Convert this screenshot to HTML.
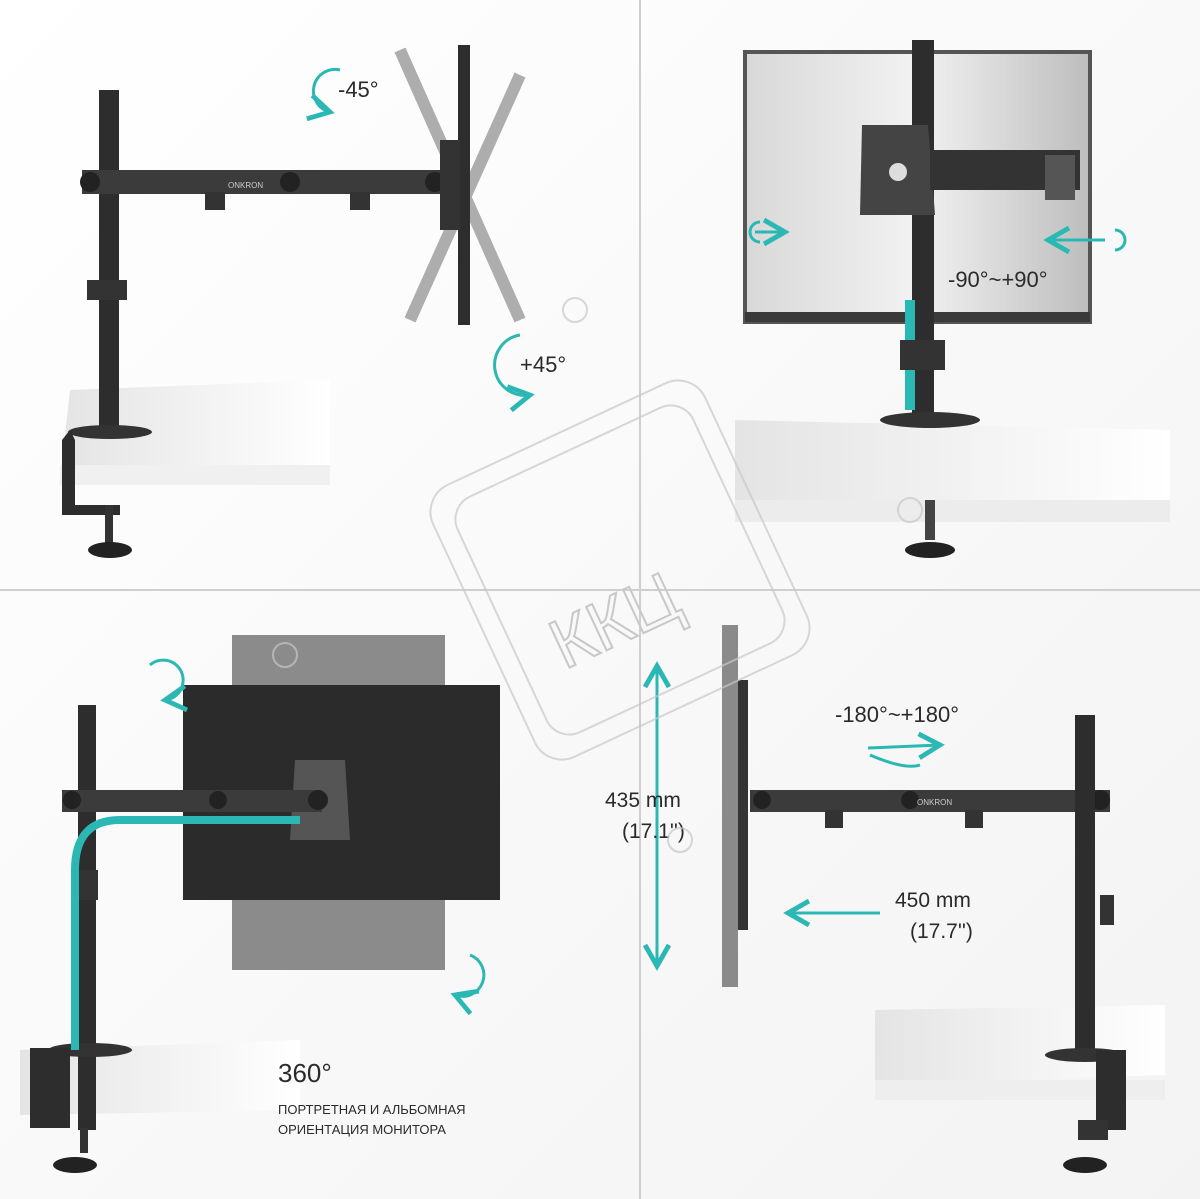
<!DOCTYPE html>
<html><head><meta charset="utf-8"><style>
html,body{margin:0;padding:0;background:#fff;}
svg{display:block;}
text{font-family:"Liberation Sans","Noto Sans CJK SC",sans-serif;fill:#2a2a2a;}
</style></head><body>
<svg width="1200" height="1199" viewBox="0 0 1200 1199" xmlns="http://www.w3.org/2000/svg">
<defs>
<linearGradient id="bg" x1="0" y1="0" x2="1" y2="1"><stop offset="0" stop-color="#ffffff"/><stop offset="1" stop-color="#f3f3f3"/></linearGradient>
<linearGradient id="mon2" x1="0" y1="0" x2="1" y2="0"><stop offset="0" stop-color="#d8d8d8"/><stop offset="0.5" stop-color="#f2f2f2"/><stop offset="1" stop-color="#bdbdbd"/></linearGradient>
<linearGradient id="desk" x1="0" y1="0" x2="1" y2="0"><stop offset="0" stop-color="#e4e4e4"/><stop offset="1" stop-color="#ffffff"/></linearGradient>
<marker id="ah" markerWidth="10" markerHeight="10" refX="8" refY="5" orient="auto"><path d="M1,1 L8,5 L1,9" fill="none" stroke="#2bb8b4" stroke-width="1.6"/></marker>
</defs>
<rect width="1200" height="1199" fill="url(#bg)"/>
<!-- dividers -->
<line x1="640" y1="0" x2="640" y2="1199" stroke="#cfcfcf" stroke-width="2"/>
<line x1="0" y1="590" x2="1200" y2="590" stroke="#cfcfcf" stroke-width="2"/>

<!-- Q1 -->
<polygon points="70,390 330,380 330,470 60,480" fill="url(#desk)"/>
<rect x="60" y="465" width="270" height="20" fill="#f0f0f0"/>
<rect x="99" y="90" width="20" height="340" fill="#2d2d2d"/>
<ellipse cx="110" cy="432" rx="42" ry="7" fill="#333"/>
<path d="M70,430 L62,440 L62,515 L120,515 L120,505 L75,505 L75,440 Z" fill="#2d2d2d"/>
<rect x="105" y="505" width="8" height="40" fill="#333"/>
<ellipse cx="110" cy="550" rx="22" ry="8" fill="#222"/>
<rect x="87" y="280" width="40" height="20" fill="#333"/>
<rect x="82" y="170" width="365" height="24" fill="#3b3b3b"/>
<circle cx="90" cy="182" r="10" fill="#222"/><circle cx="290" cy="182" r="10" fill="#222"/><circle cx="435" cy="182" r="10" fill="#222"/>
<rect x="205" y="192" width="20" height="18" fill="#333"/><rect x="350" y="192" width="20" height="18" fill="#333"/>
<text x="228" y="188" font-size="8" fill="#ccc" style="fill:#ccc">ONKRON</text>
<g stroke="#9a9a9a" stroke-width="12" fill="none" opacity="0.8">
<line x1="400" y1="50" x2="520" y2="320"/><line x1="520" y1="75" x2="410" y2="320"/>
</g>
<rect x="458" y="45" width="12" height="280" fill="#2d2d2d"/>
<rect x="440" y="140" width="20" height="90" fill="#333"/>
<text x="338" y="97" font-size="22">-45°</text>
<text x="520" y="372" font-size="22">+45°</text>
<path d="M340,70 A20,20 0 1 0 330,112" fill="none" stroke="#2bb8b4" stroke-width="3" marker-end="url(#ah)"/>
<path d="M520,335 A20,20 0 1 0 530,395" fill="none" stroke="#2bb8b4" stroke-width="3" marker-end="url(#ah)"/>

<!-- Q2 -->
<polygon points="735,420 1170,430 1170,500 735,500" fill="url(#desk)"/>
<rect x="735" y="500" width="435" height="22" fill="#ececec"/>
<rect x="745" y="52" width="345" height="270" fill="url(#mon2)" stroke="#555" stroke-width="4"/>
<rect x="745" y="312" width="345" height="10" fill="#3a3a3a"/>
<rect x="912" y="40" width="22" height="380" fill="#2d2d2d"/>
<rect x="905" y="300" width="10" height="110" fill="#2bb8b4"/>
<ellipse cx="930" cy="420" rx="50" ry="8" fill="#333"/>
<rect x="900" y="340" width="45" height="30" fill="#333"/>
<path d="M862,125 L928,125 L935,215 L860,215 Z" fill="#444"/>
<circle cx="898" cy="172" r="9" fill="#ddd"/>
<rect x="930" y="150" width="150" height="40" fill="#333"/>
<rect x="1045" y="155" width="30" height="45" fill="#555"/>
<rect x="925" y="500" width="10" height="40" fill="#444"/>
<ellipse cx="930" cy="550" rx="25" ry="8" fill="#222"/>
<text x="948" y="287" font-size="22">-90°~+90°</text>
<line x1="755" y1="232" x2="785" y2="232" stroke="#2bb8b4" stroke-width="3" marker-end="url(#ah)"/>
<path d="M760,222 A10,10 0 1 0 760,242" fill="none" stroke="#2bb8b4" stroke-width="3"/>
<line x1="1105" y1="240" x2="1048" y2="240" stroke="#2bb8b4" stroke-width="3" marker-end="url(#ah)"/>
<path d="M1115,230 A10,10 0 1 1 1115,250" fill="none" stroke="#2bb8b4" stroke-width="3"/>

<!-- Q3 -->
<polygon points="20,1050 300,1040 300,1110 20,1115" fill="url(#desk)"/>
<rect x="232" y="635" width="213" height="335" fill="#8b8b8b"/>
<rect x="183" y="685" width="317" height="215" fill="#2b2b2b"/>
<path d="M295,760 L345,760 L350,840 L290,840 Z" fill="#555"/>
<rect x="78" y="705" width="18" height="425" fill="#2d2d2d"/>
<ellipse cx="90" cy="1050" rx="42" ry="7" fill="#333"/>
<rect x="30" y="1048" width="40" height="80" fill="#2d2d2d"/>
<rect x="80" y="1128" width="8" height="25" fill="#333"/>
<ellipse cx="75" cy="1165" rx="22" ry="8" fill="#222"/>
<rect x="76" y="870" width="22" height="30" fill="#333"/>
<rect x="62" y="790" width="260" height="22" fill="#3b3b3b"/>
<circle cx="72" cy="800" r="9" fill="#222"/><circle cx="218" cy="800" r="9" fill="#222"/><circle cx="318" cy="800" r="10" fill="#222"/>
<path d="M300,820 L120,820 Q75,820 75,870 L75,1050" fill="none" stroke="#2bb8b4" stroke-width="8"/>
<path d="M150,665 A20,20 0 1 1 165,700" fill="none" stroke="#2bb8b4" stroke-width="3" marker-end="url(#ah)"/>
<path d="M470,955 A20,20 0 1 1 455,995" fill="none" stroke="#2bb8b4" stroke-width="3" marker-end="url(#ah)"/>
<text x="278" y="1082" font-size="26">360°</text>
<text x="278" y="1114" font-size="13">ПОРТРЕТНАЯ И АЛЬБОМНАЯ</text>
<text x="278" y="1134" font-size="13">ОРИЕНТАЦИЯ МОНИТОРА</text>

<!-- Q4 -->
<polygon points="875,1010 1165,1005 1165,1075 875,1085" fill="url(#desk)"/>
<rect x="875" y="1080" width="290" height="20" fill="#eee"/>
<rect x="722" y="625" width="16" height="362" fill="#8a8a8a"/>
<rect x="738" y="680" width="10" height="250" fill="#333"/>
<rect x="750" y="790" width="360" height="22" fill="#3b3b3b"/>
<circle cx="762" cy="800" r="9" fill="#222"/><circle cx="910" cy="800" r="9" fill="#222"/><circle cx="1100" cy="800" r="10" fill="#222"/>
<rect x="825" y="810" width="18" height="18" fill="#333"/><rect x="965" y="810" width="18" height="18" fill="#333"/>
<text x="917" y="805" font-size="8" style="fill:#ccc">ONKRON</text>
<rect x="1075" y="715" width="20" height="340" fill="#2d2d2d"/>
<ellipse cx="1085" cy="1055" rx="40" ry="7" fill="#333"/>
<rect x="1096" y="1050" width="30" height="80" fill="#2d2d2d"/>
<rect x="1078" y="1120" width="30" height="20" fill="#333"/>
<rect x="1100" y="895" width="14" height="30" fill="#333"/>
<ellipse cx="1085" cy="1165" rx="22" ry="8" fill="#222"/>
<line x1="657" y1="700" x2="657" y2="666" stroke="#2bb8b4" stroke-width="3" marker-end="url(#ah)"/>
<line x1="657" y1="700" x2="657" y2="966" stroke="#2bb8b4" stroke-width="3" marker-end="url(#ah)"/>
<line x1="880" y1="913" x2="788" y2="913" stroke="#2bb8b4" stroke-width="3" marker-end="url(#ah)"/>
<line x1="868" y1="748" x2="940" y2="745" stroke="#2bb8b4" stroke-width="3" marker-end="url(#ah)"/>
<path d="M870,755 Q905,770 920,765" fill="none" stroke="#2bb8b4" stroke-width="3"/>
<text x="835" y="722" font-size="22">-180°~+180°</text>
<text x="605" y="807" font-size="21">435 mm</text>
<text x="622" y="838" font-size="21">(17.1'')</text>
<text x="895" y="907" font-size="21">450 mm</text>
<text x="910" y="938" font-size="21">(17.7'')</text>

<!-- watermark -->
<g fill="none" stroke="#c8c8c8" stroke-width="2" opacity="0.7">
<rect x="470" y="420" width="300" height="300" rx="30" transform="rotate(-25 620 570)"/>
<rect x="490" y="440" width="260" height="260" rx="25" transform="rotate(-25 620 570)"/>
<circle cx="575" cy="310" r="12"/><circle cx="285" cy="655" r="12"/><circle cx="910" cy="510" r="12"/><circle cx="680" cy="840" r="12"/>
</g>
<text x="540" y="640" font-size="70" fill="none" style="fill:none;stroke:#c8c8c8;stroke-width:2" transform="rotate(-25 620 600)">ККЦ</text>
</svg>
</body></html>
